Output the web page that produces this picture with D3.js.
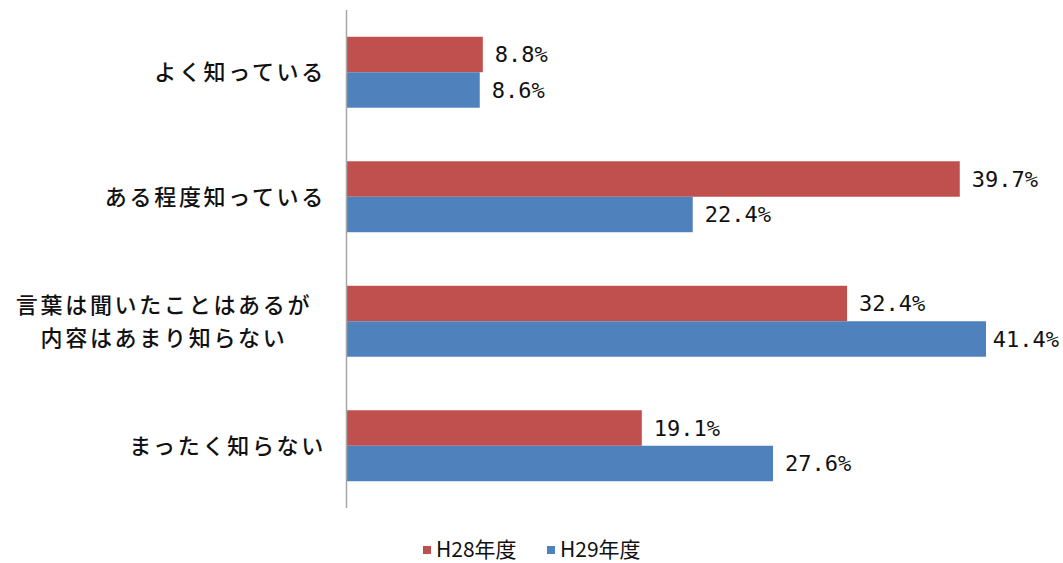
<!DOCTYPE html>
<html>
<head>
<meta charset="utf-8">
<script src="https://cdn.jsdelivr.net/npm/d3@7"></script>
<style>
  body { margin: 0; background: #fff; }
  svg text { font-family: "Noto Sans CJK JP", "Noto Sans", sans-serif; fill: #111; }
  svg text.value { font-family: "DejaVu Sans Mono", monospace; }
</style>
</head>
<body>
<svg id="chart" width="1063" height="563"></svg>
<script>
const categories = [
  ['よく知っている'],
  ['ある程度知っている'],
  ['言葉は聞いたことはあるが', '内容はあまり知らない'],
  ['まったく知らない']
];
const seriesNames = ['H28年度', 'H29年度'];
const h28 = [8.8, 39.7, 32.4, 19.1];
const h29 = [8.6, 22.4, 41.4, 27.6];
const colors = ['#C0504D', '#4F81BD'];

const svg = d3.select('#chart');
const plotLeft = 347, plotTop = 10, plotBottom = 508;
const width = 1063;

const x = d3.scaleLinear().domain([0, 41.4]).range([plotLeft, 986]);
const y = d3.scaleBand().domain(d3.range(categories.length)).range([plotTop, plotBottom]).paddingInner(0.43).paddingOuter(0.215);
const ySub = d3.scaleBand().domain([0, 1]).range([0, y.bandwidth()]);

const series = [h28, h29];

series.forEach((vals, s) => {
  const g = svg.append('g');
  g.selectAll('rect')
    .data(vals)
    .join('rect')
    .attr('x', x(0))
    .attr('y', (d, i) => y(i) + ySub(s))
    .attr('width', d => x(d) - x(0))
    .attr('height', ySub.bandwidth())
    .attr('fill', colors[s]);

  g.selectAll('text')
    .data(vals)
    .join('text')
    .attr('class', 'value')
    .attr('x', d => x(d) + 12)
    .attr('y', (d, i) => y(i) + ySub(s) + ySub.bandwidth() / 2)
    .attr('dy', '0.36em')
    .attr('font-size', 22)
    .text(d => d.toFixed(1) + '%')
    .each(function () {
      // keep labels inside the picture
      const w = this.getComputedTextLength();
      const tx = +this.getAttribute('x');
      if (tx + w > width - 4) this.setAttribute('x', width - 4 - w);
    });
});

// axis line
svg.append('line')
  .attr('x1', plotLeft - 0.5).attr('x2', plotLeft - 0.5)
  .attr('y1', plotTop).attr('y2', plotBottom)
  .attr('stroke', '#a6a6a6').attr('stroke-width', 1.5);

// category labels
categories.forEach((lines, i) => {
  const cy = y(i) + y.bandwidth() / 2;
  const multi = lines.length > 1;
  const t = svg.append('text')
    .attr('text-anchor', multi ? 'middle' : 'end')
    .attr('font-size', 22)
    .attr('letter-spacing', 2.7)
    .attr('font-weight', 500);
  lines.forEach((line, k) => {
    t.append('tspan')
      .attr('x', multi ? 164 : 326)
      .attr('y', cy + (k - (lines.length - 1) / 2) * 33)
      .attr('dy', '0.36em')
      .text(line);
  });
});

// legend
const legendX = [423, 547];
seriesNames.forEach((name, s) => {
  svg.append('rect')
    .attr('x', legendX[s]).attr('y', 546)
    .attr('width', 8).attr('height', 8)
    .attr('fill', colors[s]);
  svg.append('text')
    .attr('x', legendX[s] + 13).attr('y', 550)
    .attr('dy', '0.34em')
    .attr('font-size', 21)
    .text(name);
});
</script>
</body>
</html>
